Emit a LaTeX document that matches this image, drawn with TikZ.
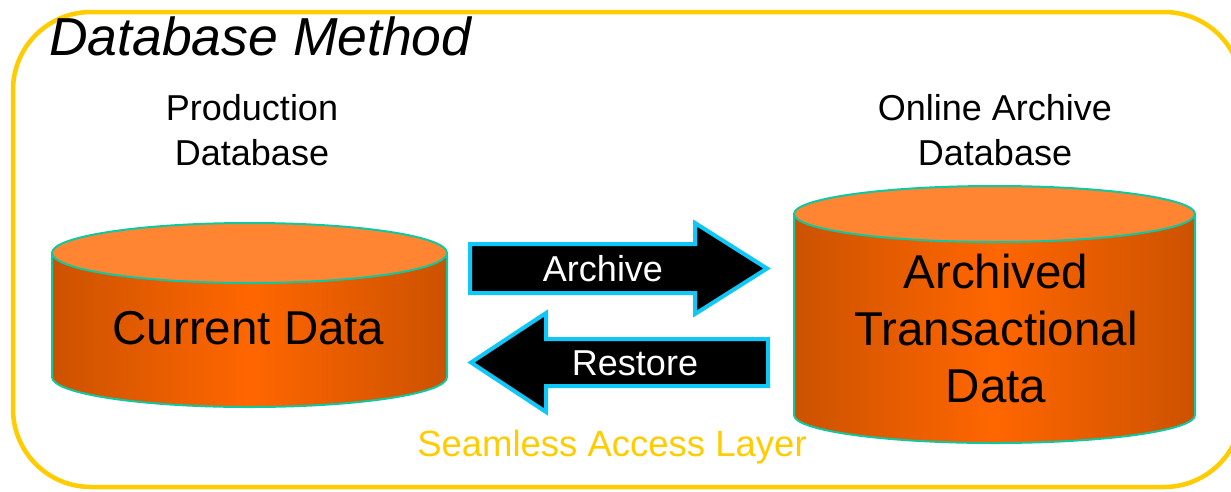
\documentclass[tikz,border=0pt]{standalone}
\usepackage{fontspec}
\setmainfont{Liberation Sans}
\definecolor{gold}{HTML}{FFCC00}
\definecolor{cyanline}{HTML}{10C8F8}
\definecolor{tealline}{HTML}{10C8A0}
\definecolor{toporange}{HTML}{FF8533}
\definecolor{darkor}{HTML}{CC5200}
\definecolor{midor}{HTML}{FF6600}
\begin{document}
\begin{tikzpicture}[x=1pt,y=-1pt,
  frame/.style={draw=gold, line width=4.5pt, rounded corners=78pt},
  sidefill/.style={left color=darkor, right color=darkor, middle color=midor},
  cylline/.style={draw=tealline, line width=2pt},
  topfill/.style={cylline, fill=toporange},
  blockarrow/.style={draw=cyanline, line width=4pt, fill=black, line join=miter},
  lbl/.style={inner sep=0pt, align=center, font=\fontsize{36}{45}\selectfont},
  dbtext/.style={inner sep=0pt, align=center, font=\fontsize{47.5}{57.3}\selectfont},
  arrtext/.style={inner sep=0pt, text=white, font=\fontsize{36}{45}\selectfont}]
\useasboundingbox (0,0) rectangle (1231,491);
\fill[white] (0,0) rectangle (1231,491);
\draw[frame] (13,12) rectangle (1242,487);
\node[inner sep=0pt, anchor=base west, font=\fontsize{53.5}{60}\selectfont\itshape] (title) at (49,55) {Database Method};
% labels
\node[lbl] (prodlbl) at (252,130.5) {Production\\Database};
\node[lbl] (archlbl) at (995,130.5) {Online Archive\\Database};
% left cylinder
\path[sidefill] (52,253) -- (52,377) arc[start angle=180, end angle=360, x radius=197.5pt, y radius=30pt] -- (447,253) -- cycle;
\draw[cylline] (52,253) -- (52,377) arc[start angle=180, end angle=360, x radius=197.5pt, y radius=30pt] -- (447,253);
\draw[topfill] (249.5,253) ellipse[x radius=197.5pt, y radius=30pt];
\node[dbtext, anchor=base] (cur) at (248.5,344) {Current Data};
% right cylinder
\path[sidefill] (794,214) -- (794,415) arc[start angle=180, end angle=360, x radius=200.5pt, y radius=28pt] -- (1195,214) -- cycle;
\draw[cylline] (794,214) -- (794,415) arc[start angle=180, end angle=360, x radius=200.5pt, y radius=28pt] -- (1195,214);
\draw[topfill] (994.5,214) ellipse[x radius=200.5pt, y radius=28pt];
\node[dbtext] (arcd) at (996,328.5) {Archived\\Transactional\\Data};
% block arrows
\draw[blockarrow] (470,244) -- (695,244) -- (695,223) -- (767,268.5) -- (695,314) -- (695,293) -- (470,293) -- cycle;
\draw[blockarrow] (471,362.5) -- (546,313) -- (546,339) -- (768,339) -- (768,386) -- (546,386) -- (546,412) -- cycle;
\node[arrtext] (archive) at (603,268.5) {Archive};
\node[arrtext] (restore) at (635,363.7) {Restore};
\node[inner sep=0pt, anchor=base, text=gold, font=\fontsize{36.5}{45}\selectfont] (seam) at (612,456) {Seamless Access Layer};
\end{tikzpicture}
\end{document}
